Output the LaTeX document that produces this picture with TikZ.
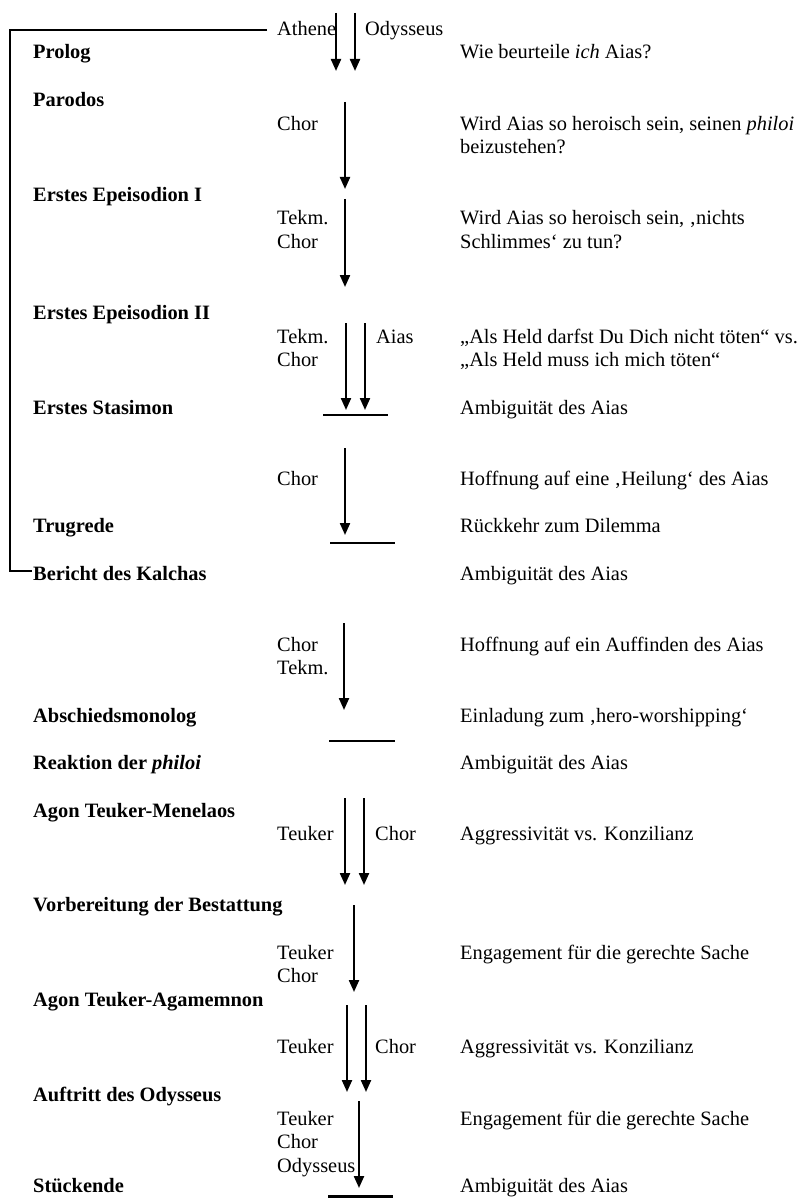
\documentclass[tikz,border=0pt]{standalone}
\usepackage{fontspec}
\setmainfont{Liberation Serif}
\usetikzlibrary{arrows.meta}
\newcommand{\ry}[1]{59+23.69*(#1)}
\begin{document}
\begin{tikzpicture}[x=1pt,y=-1pt,
  every node/.style={inner sep=0pt, font=\fontsize{20.4}{24}\selectfont},
  head/.style={anchor=base west, font=\fontsize{20.4}{24}\selectfont\bfseries},
  txt/.style={anchor=base west},
  arr/.style={line width=2.2pt, -{Triangle[width=10pt,length=12pt]}},
  bar/.style={line width=2.4pt},
  brk/.style={line width=2pt}]
\useasboundingbox (0,0) rectangle (800,1198);

% ---------- headings ----------
\node[head] (hProlog)  at (33,{\ry{0}})  {Prolog};
\node[head] (hParodos) at (33,{\ry{2}})  {Parodos};
\node[head] (hEpI)     at (33,{\ry{6}})  {Erstes Epeisodion I};
\node[head] (hEpII)    at (33,{\ry{11}}) {Erstes Epeisodion II};
\node[head] (hStas)    at (33,{\ry{15}}) {Erstes Stasimon};
\node[head] (hTrug)    at (33,{\ry{20}}) {Trugrede};
\node[head] (hKalch)   at (33,{\ry{22}}) {Bericht des Kalchas};
\node[head] (hAbsch)   at (33,{\ry{28}}) {Abschiedsmonolog};
\node[head] (hReak)    at (33,{\ry{30}}) {Reaktion der \textit{philoi}};
\node[head] (hMen)     at (33,{\ry{32}}) {Agon Teuker-Menelaos};
\node[head] (hBest)    at (33,{\ry{36}}) {Vorbereitung der Bestattung};
\node[head] (hAga)     at (33,{\ry{40}}) {Agon Teuker-Agamemnon};
\node[head] (hAuf)     at (33,{\ry{44}}) {Auftritt des Odysseus};
\node[head] (hEnde)    at (33,{\ry{48}-4}) {Stückende};

% ---------- speakers ----------
\node[txt] (sAthene) at (277,{\ry{-1}}) {Athene};
\node[txt] (sOdy1)   at (365,{\ry{-1}}) {Odysseus};
\node[txt] (sChor1)  at (277,{\ry{3}})  {Chor};
\node[txt] (sTek1)   at (277,{\ry{7}})  {Tekm.};
\node[txt] (sChor2)  at (277,{\ry{8}})  {Chor};
\node[txt] (sTek2)   at (277,{\ry{12}}) {Tekm.};
\node[txt] (sChor3)  at (277,{\ry{13}}) {Chor};
\node[txt] (sAias)   at (376,{\ry{12}}) {Aias};
\node[txt] (sChor4)  at (277,{\ry{18}}) {Chor};
\node[txt] (sChor5)  at (277,{\ry{25}}) {Chor};
\node[txt] (sTek3)   at (277,{\ry{26}}) {Tekm.};
\node[txt] (sTeu1)   at (277,{\ry{33}}) {Teuker};
\node[txt] (sChor6)  at (375,{\ry{33}}) {Chor};
\node[txt] (sTeu2)   at (277,{\ry{38}}) {Teuker};
\node[txt] (sChor7)  at (277,{\ry{39}}) {Chor};
\node[txt] (sTeu3)   at (277,{\ry{42}}) {Teuker};
\node[txt] (sChor8)  at (375,{\ry{42}}) {Chor};
\node[txt] (sTeu4)   at (277,{\ry{45}}) {Teuker};
\node[txt] (sChor9)  at (277,{\ry{46}}) {Chor};
\node[txt] (sOdy2)   at (277,{\ry{47}}) {Odysseus};

% ---------- right column ----------
\node[txt] (r0)  at (460,{\ry{0}})  {Wie beurteile \textit{ich} Aias?};
\node[txt] (r3)  at (460,{\ry{3}})  {Wird Aias so heroisch sein, seinen \textit{philoi}};
\node[txt] (r4)  at (460,{\ry{4}})  {beizustehen?};
\node[txt] (r7)  at (460,{\ry{7}})  {Wird Aias so heroisch sein, ‚nichts};
\node[txt] (r8)  at (460,{\ry{8}})  {Schlimmes‘ zu tun?};
\node[txt] (r12) at (460,{\ry{12}}) {„Als Held darfst Du Dich nicht töten“ vs.};
\node[txt] (r13) at (460,{\ry{13}}) {„Als Held muss ich mich töten“};
\node[txt] (r15) at (460,{\ry{15}}) {Ambiguität des Aias};
\node[txt] (r18) at (460,{\ry{18}}) {Hoffnung auf eine ‚Heilung‘ des Aias};
\node[txt] (r20) at (460,{\ry{20}}) {Rückkehr zum Dilemma};
\node[txt] (r22) at (460,{\ry{22}}) {Ambiguität des Aias};
\node[txt] (r25) at (460,{\ry{25}}) {Hoffnung auf ein Auffinden des Aias};
\node[txt] (r28) at (460,{\ry{28}}) {Einladung zum ‚hero-worshipping‘};
\node[txt] (r30) at (460,{\ry{30}}) {Ambiguität des Aias};
\node[txt] (r33) at (460,{\ry{33}}) {Aggressivität vs. Konzilianz};
\node[txt] (r38) at (460,{\ry{38}}) {Engagement für die gerechte Sache};
\node[txt] (r42) at (460,{\ry{42}}) {Aggressivität vs. Konzilianz};
\node[txt] (r45) at (460,{\ry{45}}) {Engagement für die gerechte Sache};
\node[txt] (r48) at (460,{\ry{48}-4}) {Ambiguität des Aias};

% ---------- arrow end points ----------
\coordinate (a1s) at (336,13);   \coordinate (a1e) at (336,71);
\coordinate (b1s) at (355,13);   \coordinate (b1e) at (355,71);
\coordinate (a2s) at (345,102);  \coordinate (a2e) at (345,189);
\coordinate (a3s) at (345,199);  \coordinate (a3e) at (345,287);
\coordinate (a4s) at (346,323);  \coordinate (a4e) at (346,410);
\coordinate (b4s) at (365,323);  \coordinate (b4e) at (365,410);
\coordinate (a5s) at (345,448);  \coordinate (a5e) at (345,535);
\coordinate (a6s) at (344,623);  \coordinate (a6e) at (344,710);
\coordinate (a7s) at (345,798);  \coordinate (a7e) at (345,885);
\coordinate (b7s) at (364,798);  \coordinate (b7e) at (364,885);
\coordinate (a8s) at (354,905);  \coordinate (a8e) at (354,992);
\coordinate (a9s) at (347,1005); \coordinate (a9e) at (347,1092);
\coordinate (b9s) at (366,1005); \coordinate (b9e) at (366,1092);
\coordinate (a10s) at (359,1101); \coordinate (a10e) at (359,1188);

\draw[arr] (a1s) -- (a1e);
\draw[arr] (b1s) -- (b1e);
\draw[arr] (a2s) -- (a2e);
\draw[arr] (a3s) -- (a3e);
\draw[arr] (a4s) -- (a4e);
\draw[arr] (b4s) -- (b4e);
\draw[arr] (a5s) -- (a5e);
\draw[arr] (a6s) -- (a6e);
\draw[arr] (a7s) -- (a7e);
\draw[arr] (b7s) -- (b7e);
\draw[arr] (a8s) -- (a8e);
\draw[arr] (a9s) -- (a9e);
\draw[arr] (b9s) -- (b9e);
\draw[arr] (a10s) -- (a10e);

% ---------- bars ----------
\coordinate (l4a) at (323,415);    \coordinate (l4b) at (388,415);
\coordinate (l5a) at (330,543);    \coordinate (l5b) at (395,543);
\coordinate (l6a) at (329,741);    \coordinate (l6b) at (395,741);
\coordinate (l10a) at (328,1196.5); \coordinate (l10b) at (393,1196.5);
\draw[bar] (l4a) -- (l4b);
\draw[bar] (l5a) -- (l5b);
\draw[bar] (l6a) -- (l6b);
\draw[bar] (l10a) -- (l10b);

% ---------- bracket ----------
\coordinate (k1) at (267,30);
\coordinate (k2) at (10,30);
\coordinate (k3) at (10,571);
\coordinate (k4) at (32,571);
\draw[brk] (k1) -- (k2) -- (k3) -- (k4);
\end{tikzpicture}
\end{document}
